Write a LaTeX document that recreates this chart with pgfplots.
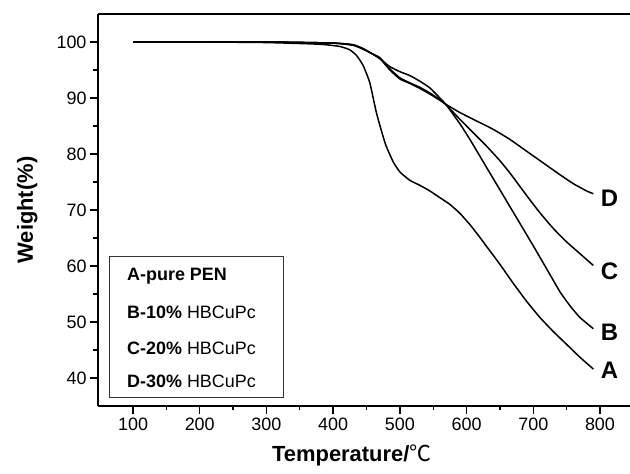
\documentclass[border=0pt]{standalone}
\usepackage{fontspec}
\setmainfont{Liberation Sans}
\newfontfamily\cjk{Noto Sans CJK SC}
\usepackage{pgfplots}
\pgfplotsset{compat=1.18}
\usetikzlibrary{calc}

\begin{document}
\begin{tikzpicture}
\begin{axis}[
  scale only axis,
  width=532bp, height=392bp,
  xmin=47.5, xmax=845, ymin=35, ymax=105,
  axis x line=box, axis y line=left,
  axis line style={-, line width=1.6bp},
  xtick pos=bottom, ytick pos=left,
  tick align=outside,
  xtick={100,200,...,800}, ytick={40,50,...,100},
  minor x tick num=1, minor y tick num=1,
  major tick length=8bp, minor tick length=4.5bp,
  every tick/.style={black, line width=1.4bp},
  /pgf/number format/assume math mode=true,
  tick label style={font=\fontsize{18}{20}\selectfont},
  xlabel={\textbf{Temperature/}{\cjk ℃}},
  ylabel={\textbf{Weight(\%)}},
  every axis x label/.style={at={(axis description cs:0.477,-0.125)}, anchor=center,
    font=\fontsize{22}{24}\selectfont},
  every axis y label/.style={at={(axis description cs:-0.133,0.5)}, rotate=90, anchor=center,
    font=\fontsize{22}{24}\selectfont},
  clip=false,
  cycle list={{black}},
  every axis plot post/.style={black, line width=1.5bp, no marks, smooth, tension=0.3},
]
% A - pure PEN
\addplot coordinates {
(100,100) (200,100) (300,99.9) (380,99.6) (410,99.2) (425,98.6) (435,97.6)
(445,95.8) (455,92.7) (465,87.3) (478,81.9) (490,78.6) (500,76.8) (515,75.3)
(530,74.4) (545,73.4) (560,72.2) (575,71.0) (590,69.4) (605,67.4) (620,65.1)
(635,62.7) (650,60.3) (670,56.9) (690,53.7) (710,50.8) (730,48.3) (750,46.0)
(770,43.7) (790,41.6)
};
% B - 10% HBCuPc
\addplot coordinates {
(100,100) (300,100) (400,99.8) (430,99.5) (445,98.8) (460,97.8) (470,97.0)
(485,95.6) (500,94.7) (515,94.0) (530,93.0) (545,91.8) (560,90.0) (570,88.7)
(590,85.4) (605,82.6) (625,78.6) (645,74.6) (660,71.6) (680,67.6) (700,63.6)
(720,59.5) (740,55.4) (755,52.9) (770,50.8) (790,48.8)
};
% C - 20% HBCuPc
\addplot coordinates {
(100,100) (300,100) (400,99.8) (430,99.5) (445,98.8) (460,97.8) (470,97.2)
(485,95.2) (500,93.6) (515,92.7) (530,91.9) (545,90.9) (560,89.7) (570,88.7)
(590,86.2) (610,83.8) (630,81.4) (650,78.8) (665,76.6) (680,74.2) (695,71.8)
(710,69.5) (730,66.7) (750,64.3) (770,62.2) (790,60.1)
};
% D - 30% HBCuPc
\addplot coordinates {
(100,100) (300,100) (400,99.8) (430,99.4) (445,98.7) (460,97.8) (470,97.1)
(485,95.0) (500,93.4) (515,92.6) (530,91.7) (545,90.7) (560,89.6) (570,88.8)
(590,87.4) (615,85.9) (640,84.4) (665,82.6) (690,80.5) (715,78.4) (740,76.3)
(760,74.7) (780,73.4) (790,72.9)
};
% curve labels
\begin{scope}[font=\fontsize{24}{26}\selectfont\bfseries]
\node[anchor=west, inner sep=0] at (axis cs:801,41.4) {A};
\node[anchor=west, inner sep=0] at (axis cs:801,48.1) {B};
\node[anchor=west, inner sep=0] at (axis cs:801,59.05) {C};
\node[anchor=west, inner sep=0] at (axis cs:801,72.06) {D};
\end{scope}
% key box
\draw[line width=0.8bp, black!80] (axis cs:64,36.6) rectangle (axis cs:326,61.7);
\begin{scope}[font=\fontsize{18}{20}\selectfont, every node/.style={anchor=base west, inner sep=0}]
\node at (axis cs:91,57.4) {\textbf{A-pure PEN}};
\node at (axis cs:91,50.6) {\textbf{B-10\%} HBCuPc};
\node at (axis cs:91,44.2) {\textbf{C-20\%} HBCuPc};
\node at (axis cs:91,38.3) {\textbf{D-30\%} HBCuPc};
\end{scope}
\end{axis}
\pgfresetboundingbox
\path[use as bounding box] ($(current axis.south west)+(-98bp,-68bp)$)
  rectangle ($(current axis.north east)+(0bp,14bp)$);
\end{tikzpicture}
\end{document}
